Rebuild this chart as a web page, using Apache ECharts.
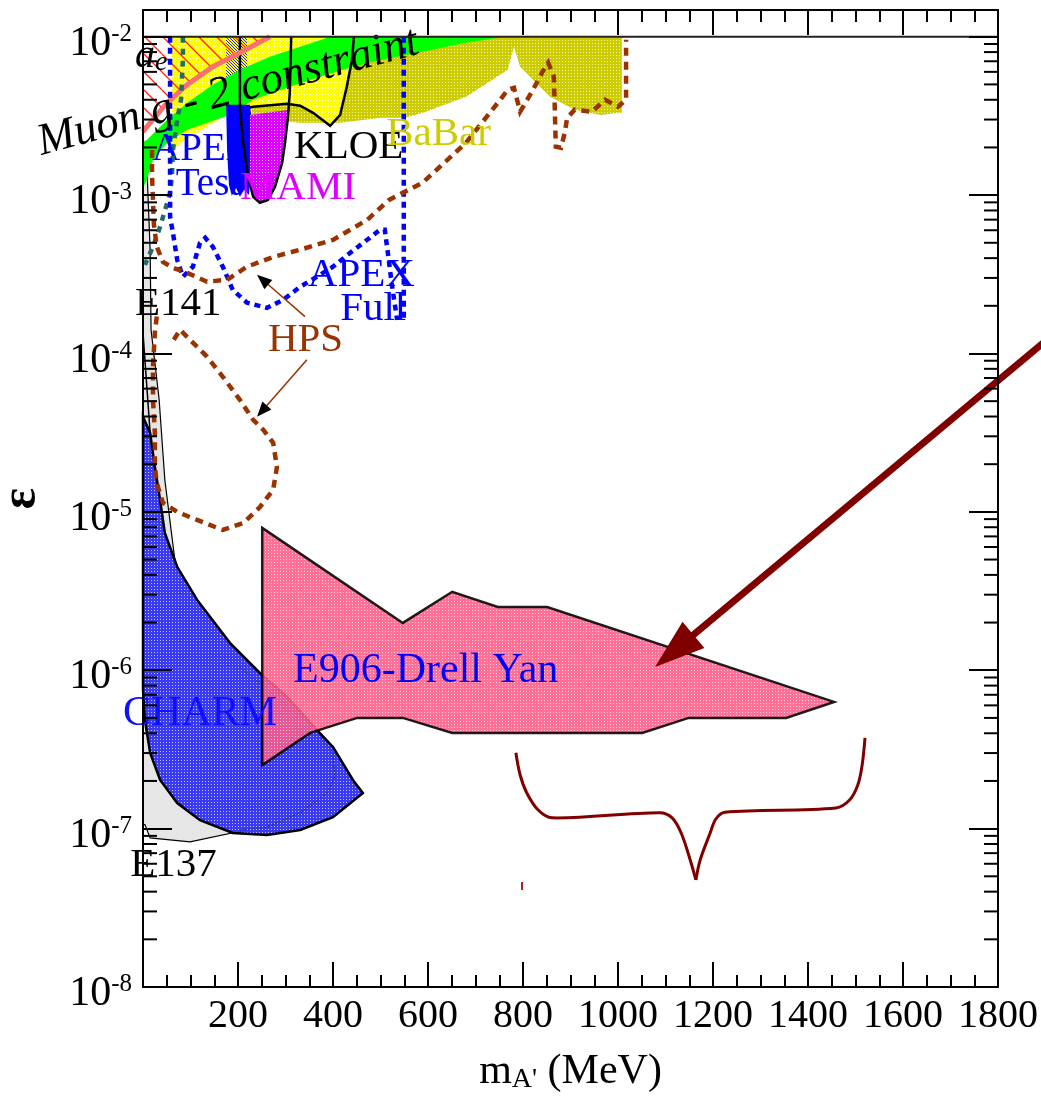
<!DOCTYPE html>
<html><head><meta charset="utf-8">
<script src="https://cdn.jsdelivr.net/npm/echarts@6/dist/echarts.min.js"></script>
<style>html,body{margin:0;padding:0;background:#fff}#c{width:1041px;height:1101px}</style>
</head><body><div id="c"></div>
<script>
// ===== DATA (x: dark photon mass in MeV, y: epsilon) =====
const xTickLabels = ['', '200', '400', '600', '800', '1000', '1200', '1400', '1600', '1800'];
const yTickExponents = [-8, -7, -6, -5, -4, -3, -2];
const minorMultipliers = [2, 3, 4, 5, 6, 7, 8, 9];

const e141Region = [[0,1.56e-3],[8,1.56e-3],[15,4.52e-4],[17,1.41e-4],[34,5.1e-5],[46,1.59e-5],[67,4.98e-6],[120,1.34e-6],[204,2.72e-7],[189,9.4e-8],[99,8.24e-8],[15,8.73e-8],[4,1.06e-7],[0,1.06e-7]];
const charmRegion = [[0,3.98e-5],[15,3.15e-5],[25,1.92e-5],[36,1.19e-5],[46,7.37e-6],[72,4.5e-6],[114,2.78e-6],[183,1.49e-6],[246,9.61e-7],[303,6.79e-7],[366,4.2e-7],[400,3.28e-7],[442,2.03e-7],[463,1.68e-7],[400,1.18e-7],[331,9.8e-8],[261,9.12e-8],[189,9.38e-8],[120,1.13e-7],[72,1.45e-7],[36,2.03e-7],[15,3.01e-7],[4,4.85e-7],[0,7.51e-7]];
const charmEdge = [[0,1.35e-4],[15,3.15e-5]];
const charmInner = [[204,1.05e-6],[288,6.49e-7],[358,4.39e-7],[400,3.01e-7],[404,2.12e-7],[387,1.68e-7],[331,1.26e-7],[261,1.02e-7],[204,9.8e-8]];
const e906Region = [[251,7.92e-6],[547,1.99e-6],[651,3.13e-6],[747,2.51e-6],[851,2.51e-6],[1455,6.31e-7],[1354,5.0e-7],[1149,5.0e-7],[1051,4.02e-7],[651,4.02e-7],[547,5.0e-7],[451,5.0e-7],[352,4.02e-7],[251,2.52e-7]];
const babarRegion = [[225,1e-2],[1008,1e-2],[1008,3.31e-3],[1000,3.31e-3],[964,3.21e-3],[909,3.46e-3],[857,4.18e-3],[794,6.47e-3],[781,8.65e-3],[768,6.19e-3],[680,4.18e-3],[589,3.31e-3],[552,3.08e-3],[501,3.08e-3],[415,2.86e-3],[331,2.86e-3],[257,2.99e-3],[229,3.21e-3]];
const kloeRegion = [[61,1e-2],[444,1e-2],[440,7.16e-3],[429,4.83e-3],[415,3.21e-3],[394,2.74e-3],[358,3.31e-3],[331,3.67e-3],[303,3.77e-3],[232,3.61e-3],[204,3.46e-3],[183,3.31e-3],[141,2.78e-3],[88,2.23e-3],[61,1.93e-3]];
const kloeCurve = [[183,3.31e-3],[204,3.46e-3],[232,3.61e-3],[303,3.77e-3],[331,3.67e-3],[358,3.31e-3],[394,2.74e-3],[415,3.21e-3],[429,4.83e-3],[440,7.16e-3],[444,1e-2]];
const apexTestUpper = [[175,1e-2],[219,1e-2],[221,4.0e-3],[175,4.0e-3]];
const apexTestRegion = [[175,3.72e-3],[225,3.72e-3],[232,2.59e-3],[227,1.44e-3],[223,1.0e-3],[213,1.08e-3],[204,9.75e-4],[196,1.11e-3],[187,9.9e-4],[181,1.16e-3],[177,1.93e-3]];
const mamiRegion = [[225,3.21e-3],[309,3.46e-3],[305,3.08e-3],[299,2.14e-3],[293,1.6e-3],[278,1.13e-3],[263,9.33e-4],[246,8.95e-4],[232,9.75e-4],[225,1.25e-3]];
const mamiCurve = [[204,1e-2],[204,3.46e-3],[211,2.14e-3],[221,1.31e-3],[232,9.75e-4],[246,8.95e-4],[263,9.33e-4],[278,1.13e-3],[293,1.6e-3],[299,2.14e-3],[305,3.08e-3],[309,4.43e-3],[312,1e-2]];
const aeRegion = [[0,1e-2],[267,1e-2],[204,7.92e-3],[147,6.47e-3],[93,4.98e-3],[51,3.83e-3],[8,2.7e-3],[0,2.51e-3]];
const aeCurve = [[0,2.51e-3],[8,2.7e-3],[51,3.83e-3],[93,4.98e-3],[147,6.47e-3],[204,7.92e-3],[267,1e-2]];
const muonBand = [[0,2.17e-3],[8,2.23e-3],[51,2.99e-3],[93,3.83e-3],[147,4.98e-3],[204,6.19e-3],[267,7.48e-3],[331,8.65e-3],[394,1e-2],[762,1e-2],[680,9.17e-3],[589,8.04e-3],[501,7.16e-3],[442,6.47e-3],[373,5.59e-3],[303,4.76e-3],[232,4.0e-3],[183,3.21e-3],[135,2.86e-3],[93,2.59e-3],[51,2.14e-3],[21,1.67e-3],[8,1.25e-3],[0,1.11e-3]];
const tealCurve = [[84,1e-2],[84,7.16e-3],[80,4.0e-3],[72,2.99e-3],[63,1.93e-3],[61,1.31e-3],[57,1.035e-3],[51,8.95e-4],[36,6.31e-4],[21,4.72e-4],[4,3.63e-4]];
const apexFullCurve = [[57,1e-2],[57,7.3e-4],[63,5.78e-4],[72,3.9e-4],[84,3.05e-4],[105,3.53e-4],[120,5.0e-4],[131,5.37e-4],[147,4.72e-4],[168,3.53e-4],[189,2.52e-4],[219,2.09e-4],[261,1.94e-4],[295,2.18e-4],[331,2.64e-4],[366,3.05e-4],[400,3.53e-4],[436,4.32e-4],[472,5.22e-4],[499,6.04e-4],[509,6.04e-4],[516,4.2e-4],[524,2.72e-4],[535,1.63e-4]];
const apexFullEdge = [[549,1e-2],[549,1.58e-4]];
const hpsUpper = [[19,1.93e-3],[19,1.34e-3],[21,9.33e-4],[23,6.5e-4],[29,4.72e-4],[42,3.79e-4],[63,3.48e-4],[93,3.23e-4],[135,2.84e-4],[177,2.92e-4],[219,3.53e-4],[274,4.07e-4],[331,4.52e-4],[400,5.22e-4],[472,6.98e-4],[518,9.33e-4],[589,1.2e-3],[680,2.14e-3],[752,4.0e-3],[768,4.62e-3],[781,4.76e-3],[794,3.36e-3],[821,4.62e-3],[840,5.93e-3],[853,6.86e-3],[865,5.59e-3],[867,3.46e-3],[869,2.02e-3],[880,1.99e-3],[888,2.48e-3],[893,3.08e-3],[909,3.46e-3],[945,3.36e-3],[973,4.0e-3],[1000,3.61e-3],[1017,4.0e-3],[1017,6.47e-3],[1017,9.57e-3]];
const hpsLower = [[29,1.71e-4],[25,1.35e-4],[21,8.24e-5],[21,5.1e-5],[25,3.15e-5],[25,1.92e-5],[29,1.52e-5],[42,1.14e-5],[72,1.0e-5],[114,8.89e-6],[168,7.69e-6],[211,8.51e-6],[246,1.07e-5],[274,1.38e-5],[282,1.92e-5],[274,2.73e-5],[253,3.3e-5],[232,3.81e-5],[204,5.1e-5],[168,7.13e-5],[135,9.53e-5],[99,1.22e-4],[78,1.41e-4],[61,1.17e-4]];
const hpsArrows = [[[341,1.71e-4],[240,3.14e-4]], [[345,9.12e-5],[240,3.98e-5]]];
const bigArrow = [[1900,1.2e-4],[1078,1.05e-6]];
const braceLeft = [[785,3.01e-7],[794,2.18e-7],[808,1.68e-7],[832,1.31e-7],[861,1.17e-7],[1088,1.26e-7],[1114,1.17e-7],[1133,9.38e-8],[1152,6.34e-8],[1164,4.74e-8]];
const braceRight = [[1164,4.74e-8],[1173,6.34e-8],[1194,9.38e-8],[1206,1.15e-7],[1225,1.27e-7],[1459,1.35e-7],[1488,1.52e-7],[1505,1.89e-7],[1514,2.52e-7],[1520,3.74e-7]];
const strayMark = [[798,4.6e-8],[798,4.1e-8]];
const topLimit = [[0,1e-2],[1800,1e-2]];

// ===== annotation layout =====
const FONT = "'Liberation Serif', 'Times New Roman', serif";
const labelsUnder = [
  {text:'APEX', at:[19,1.92e-3], color:'#0000ff', size:39},
  {text:'Test', at:[69,1.17e-3], color:'#0000ff', size:39}
];
const labelsOver = [
  {text:'{a|a}{e|e}', at:[-17,7.48e-3], color:'#000', size:40, rich:{a:{fontSize:40,fontStyle:'italic',fontFamily:FONT,lineHeight:40},e:{fontSize:28,fontStyle:'italic',fontFamily:FONT,lineHeight:12,verticalAlign:'bottom'}}},
  {text:'Muon g - 2 constraint', at:[179,4.43e-3], color:'#000', size:45, italic:true, rotate:15, align:'center'},
  {text:'KLOE', at:[318,2.02e-3], color:'#000', size:41},
  {text:'BaBar', at:[512,2.44e-3], color:'#cccc00', size:41},
  {text:'MAMI', at:[204,1.1e-3], color:'#dd00ff', size:41},
  {text:'APEX', at:[347,3.14e-4], color:'#0000ff', size:41},
  {text:'Full', at:[415,1.91e-4], color:'#0000ff', size:41},
  {text:'E141', at:[-17,2.06e-4], color:'#000', size:41},
  {text:'HPS', at:[263,1.22e-4], color:'#993300', size:41},
  {text:'E906-Drell Yan', at:[316,9.83e-7], color:'#0000ff', size:42},
  {text:'CHARM', at:[-42,5.26e-7], color:'#1010ff', size:42},
  {text:'E137', at:[-27,5.89e-8], color:'#000', size:41}
];

function pattern(base, dot, size, dots) {
  const c = document.createElement('canvas'); c.width = size; c.height = size;
  const g = c.getContext('2d'); g.fillStyle = base; g.fillRect(0, 0, size, size);
  g.fillStyle = dot; dots.forEach(d => g.fillRect(d[0], d[1], 1, 1));
  return {image: c, repeat: 'repeat'};
}
function hatch(color, s) {
  const c = document.createElement('canvas'); c.width = s; c.height = s;
  const g = c.getContext('2d'); g.strokeStyle = color; g.lineWidth = 1.3;
  g.beginPath();
  for (let k = -1; k <= 1; k++) { g.moveTo(k * s, 0); g.lineTo(k * s + s, s); }
  g.stroke();
  return {image: c, repeat: 'repeat'};
}

let zc = 5;
function shape(pts, style, closed, smooth) {
  return {
    type: 'custom', coordinateSystem: 'cartesian2d', silent: true, z: zc++, data: pts,
    renderItem: function (params, api) {
      if (params.dataIndex !== 0) return null;
      const points = pts.map(p => api.coord(p));
      return {type: closed ? 'polygon' : 'polyline', shape: {points: points, smooth: smooth || 0},
              style: Object.assign({fill: closed ? undefined : 'none'}, style)};
    }
  };
}
function textSeries(list) {
  return {
    type: 'custom', coordinateSystem: 'cartesian2d', silent: true, z: zc++,
    data: list.map(l => l.at),
    renderItem: function (params, api) {
      const l = list[params.dataIndex];
      const p = api.coord(l.at);
      return {type: 'text', x: p[0], y: p[1], rotation: (l.rotate || 0) * Math.PI / 180,
        style: {text: l.text, fill: l.color, fontSize: l.size, fontFamily: FONT,
                fontStyle: l.italic ? 'italic' : 'normal', align: l.align || 'left',
                verticalAlign: 'middle', rich: l.rich}};
    }
  };
}
function arrowSeries(list, lineColor, lineWidth, headColor, hl, hw) {
  return {
    type: 'custom', coordinateSystem: 'cartesian2d', silent: true, z: zc++,
    data: list.map(a => a[1]),
    renderItem: function (params, api) {
      const a = api.coord(list[params.dataIndex][0]);
      const b = api.coord(list[params.dataIndex][1]);
      const dx = b[0] - a[0], dy = b[1] - a[1], L = Math.hypot(dx, dy), ux = dx / L, uy = dy / L;
      const bx = b[0] - ux * hl, by = b[1] - uy * hl;
      return {type: 'group', children: [
        {type: 'line', shape: {x1: a[0], y1: a[1], x2: bx + ux * 4, y2: by + uy * 4}, style: {stroke: lineColor, lineWidth: lineWidth}},
        {type: 'polygon', shape: {points: [b, [bx - uy * hw, by + ux * hw], [bx + uy * hw, by - ux * hw]]}, style: {fill: headColor}}
      ]};
    }
  };
}

const minorVals = [];
yTickExponents.forEach(e => minorMultipliers.forEach(m => { const v = m * Math.pow(10, e); if (v < 0.0147) minorVals.push([0, v]); }));

const yellowPat = pattern('#ffff00', '#ffffff', 3, [[1,1]]);
const olivePat = pattern('#cccc00', '#f4f4b0', 3, [[1,1]]);
const charmPat = pattern('#3a3af5', '#c8c8ff', 3, [[1,1]]);
const e906Pat = pattern('#ff5c88', '#ffd0dc', 3, [[1,1]]);
const mamiPat = pattern('#dd00ff', '#f8c0ff', 3, [[1,1]]);
const apexPat = pattern('#ffff00', '#2020ff', 3, [[0,0],[1,1],[2,2]]);
const aeHatch = hatch('#ff2020', 18);

const series = [
  shape(e141Region, {fill: '#e6e6e6', stroke: '#000', lineWidth: 1.2}, true),
  shape(babarRegion, {fill: olivePat}, true),
  shape(kloeRegion, {fill: yellowPat}, true),
  shape(apexTestUpper, {fill: apexPat}, true),
  shape(aeRegion, {fill: aeHatch}, true),
  shape(muonBand, {fill: '#00ff00'}, true),
  textSeries(labelsUnder),
  shape(kloeCurve, {stroke: '#000', lineWidth: 2.5}, false),
  shape(apexTestRegion, {fill: '#0000ff'}, true),
  shape(mamiRegion, {fill: mamiPat}, true),
  shape(mamiCurve, {stroke: '#000', lineWidth: 2.5}, false),
  shape(aeCurve, {stroke: '#f87070', lineWidth: 5}, false),
  shape(charmRegion, {fill: charmPat, stroke: '#000', lineWidth: 2.5}, true),
  shape(charmEdge, {stroke: '#000', lineWidth: 1.5}, false),
  shape(charmInner, {stroke: '#333', lineWidth: 1, lineDash: [2, 2]}, false),
  shape(e906Region, {fill: e906Pat, stroke: '#000', lineWidth: 2.5, opacity: 0.88}, true),
  shape(tealCurve, {stroke: '#226b6b', lineWidth: 4.5, lineDash: [6, 6]}, false),
  shape(apexFullCurve, {stroke: '#0000ff', lineWidth: 4.5, lineDash: [6, 5]}, false),
  shape(apexFullEdge, {stroke: '#0000ff', lineWidth: 4.5, lineDash: [6, 5]}, false),
  shape(hpsUpper, {stroke: '#993300', lineWidth: 4.5, lineDash: [8, 6]}, false),
  shape(hpsLower, {stroke: '#993300', lineWidth: 4.5, lineDash: [8, 6]}, false),
  textSeries(labelsOver),
  arrowSeries(hpsArrows, '#993300', 1.5, '#000', 15, 6),
  arrowSeries([bigArrow], '#800000', 7, '#800000', 50, 17),
  shape(braceLeft, {stroke: '#800000', lineWidth: 3, lineJoin: 'round'}, false, 0.35),
  shape(braceRight, {stroke: '#800000', lineWidth: 3, lineJoin: 'round'}, false, 0.35),
  shape(strayMark, {stroke: '#a02020', lineWidth: 2}, false),
  shape(topLimit, {stroke: '#222', lineWidth: 2}, false),
  {
    type: 'custom', coordinateSystem: 'cartesian2d', silent: true, z: 60, data: minorVals,
    renderItem: function (params, api) {
      const v = api.value(1);
      const l = api.coord([0, v]), r = api.coord([1800, v]);
      return {type: 'group', children: [
        {type: 'line', shape: {x1: l[0], y1: l[1], x2: l[0] + 14, y2: l[1]}, style: {stroke: '#000', lineWidth: 2}},
        {type: 'line', shape: {x1: r[0] - 14, y1: r[1], x2: r[0], y2: r[1]}, style: {stroke: '#000', lineWidth: 2}}
      ]};
    }
  }
];

const axisCommonX = {
  type: 'value', min: 0, max: 1800, interval: 200, z: 50,
  axisLine: {show: true, onZero: false, lineStyle: {color: '#000', width: 2}},
  axisTick: {show: true, inside: true, length: 25, lineStyle: {color: '#000', width: 2}},
  minorTick: {show: true, splitNumber: 4, length: 12, lineStyle: {color: '#000', width: 2}},
  splitLine: {show: false}
};
const axisCommonY = {
  type: 'log', logBase: 10, min: 1e-8, max: 0.01475, z: 50,
  axisLine: {show: true, onZero: false, lineStyle: {color: '#000', width: 2}},
  axisTick: {show: true, inside: true, length: 29, lineStyle: {color: '#000', width: 2}},
  splitLine: {show: false}
};

const chart = echarts.init(document.getElementById('c'), null, {renderer: 'canvas'});
chart.setOption({
  animation: false,
  backgroundColor: '#fff',
  grid: {left: 143, right: 43, top: 10, bottom: 114, containLabel: false, outerBoundsMode: 'none'},
  xAxis: [
    Object.assign({}, axisCommonX, {
      position: 'bottom',
      name: "{m|m}{a|A'}{m| (MeV)}", nameLocation: 'middle', nameGap: 63,
      nameTextStyle: {rich: {m: {fontSize: 42, fontFamily: FONT, color: '#000', lineHeight: 44},
                             a: {fontSize: 28, fontFamily: FONT, color: '#000', lineHeight: 12, verticalAlign: 'bottom'}}},
      axisLabel: {show: true, margin: 9, fontSize: 40, fontFamily: FONT, color: '#000',
        formatter: function (v) { return xTickLabels[Math.round(v / 200)] || ''; }}
    }),
    Object.assign({}, axisCommonX, {position: 'top', axisLabel: {show: false}})
  ],
  yAxis: [
    Object.assign({}, axisCommonY, {
      position: 'left',
      name: 'ε', nameLocation: 'middle', nameGap: 96,
      nameTextStyle: {fontSize: 50, fontWeight: 'bold', fontFamily: FONT, color: '#000'},
      axisLabel: {show: true, margin: 11, padding: [14, 0, 0, 0], color: '#000',
        formatter: function (v) {
          const lg = Math.log10(v), e = Math.round(lg);
          if (Math.abs(lg - e) > 1e-6 || yTickExponents.indexOf(e) < 0) return '';
          return '{b|10}{s|' + e + '}';
        },
        rich: {b: {fontSize: 42, fontFamily: FONT, color: '#000', lineHeight: 44},
               s: {fontSize: 25, fontFamily: FONT, color: '#000', lineHeight: 28, verticalAlign: 'top'}}}
    }),
    Object.assign({}, axisCommonY, {position: 'right', axisLabel: {show: false}})
  ],
  series: series
});
</script>
</body></html>
